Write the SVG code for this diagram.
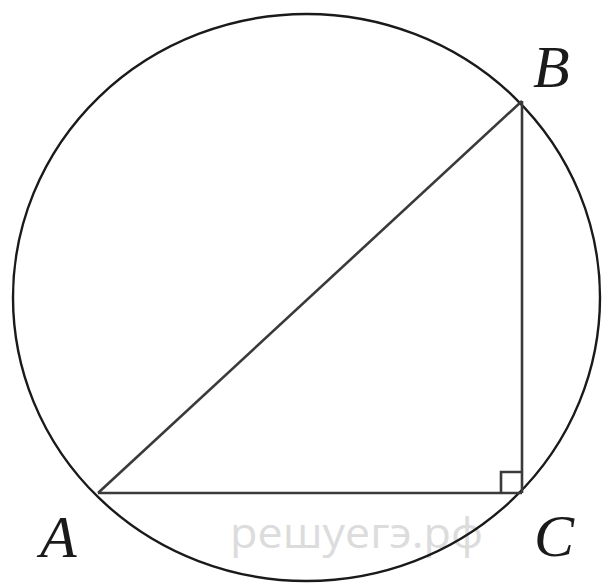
<svg xmlns="http://www.w3.org/2000/svg" width="602" height="583" viewBox="0 0 602 583">
<style>
.lbl{font-family:"Liberation Serif","Times New Roman",serif;font-style:italic;font-size:60px;fill:#1a1a1a}
.edge{stroke:#3a3a3a;stroke-width:2.6;fill:none}
.circ{stroke:#1a1a1a;stroke-width:2.4;fill:none}
.wm{font-family:"Open Sans","Liberation Sans",sans-serif;font-size:42px;fill:#dcdcdc}
</style>
<rect width="602" height="583" fill="#ffffff"/>
<text class="wm" x="230" y="548" textLength="253" lengthAdjust="spacingAndGlyphs">решуегэ.рф</text>
<g id="circle"><ellipse class="circ" cx="306.5" cy="297.5" rx="293.5" ry="283.5"/></g>
<g id="connectors">
<line class="edge" x1="98" y1="493" x2="522" y2="101"/>
<line class="edge" x1="522" y1="101" x2="522" y2="493"/>
<line class="edge" x1="98" y1="493" x2="522" y2="493"/>
<polyline class="edge" points="501,493 501,472 522,472" stroke-width="2"/>
</g>
<g id="A"><text class="lbl" x="40" y="557">A</text></g>
<g id="B"><text class="lbl" x="533" y="87">B</text></g>
<g id="C"><text class="lbl" x="534" y="556">C</text></g>
</svg>
